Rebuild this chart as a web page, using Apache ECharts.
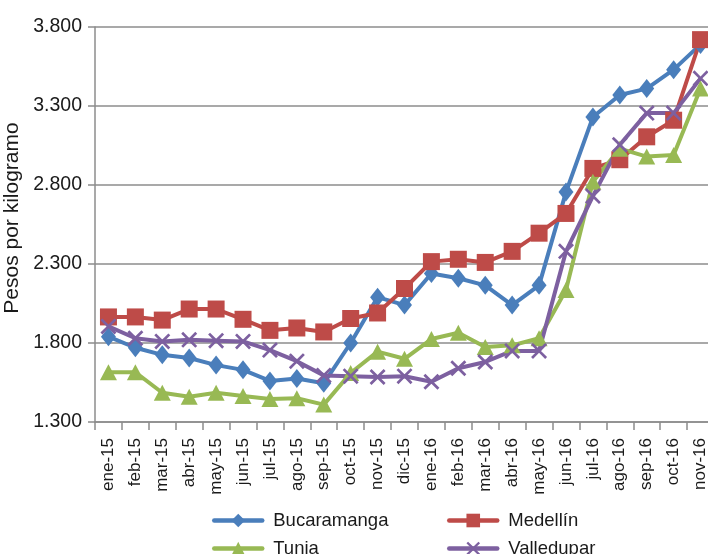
<!DOCTYPE html>
<html>
<head>
<meta charset="utf-8">
<script src="https://cdn.jsdelivr.net/npm/echarts@6/dist/echarts.min.js"></script>
<style>
html,body{margin:0;padding:0;background:#fff;}
#chart{width:708px;height:554px;}
</style>
</head>
<body>
<div id="chart"></div>
<script>
var categories = ['ene-15','feb-15','mar-15','abr-15','may-15','jun-15','jul-15','ago-15','sep-15','oct-15','nov-15','dic-15',
  'ene-16','feb-16','mar-16','abr-16','may-16','jun-16','jul-16','ago-16','sep-16','oct-16','nov-16'];
var bucaramanga = [1840,1770,1725,1705,1660,1630,1560,1575,1545,1800,2090,2040,2240,2210,2165,2040,2165,2755,3230,3370,3410,3530,3690];
var medellin    = [1965,1965,1945,2015,2015,1950,1880,1895,1870,1955,1990,2145,2315,2330,2310,2380,2495,2620,2905,2960,3105,3210,3720];
var tunja       = [1615,1615,1485,1460,1485,1465,1445,1450,1410,1610,1745,1700,1825,1865,1775,1785,1830,2135,2820,3030,2980,2990,3410];
var valledupar  = [1905,1830,1810,1820,1815,1810,1755,1685,1595,1590,1585,1590,1555,1640,1680,1750,1750,2380,2730,3055,3255,3255,3475];
var yTicks = [1300,1800,2300,2800,3300,3800];

var FONT = 'Liberation Sans, Arial, sans-serif';
var TXT = '#1a1a1a';
var xShape = 'path://M0,1.2 L1.2,0 L5,3.8 L8.8,0 L10,1.2 L6.2,5 L10,8.8 L8.8,10 L5,6.2 L1.2,10 L0,8.8 L3.8,5 Z';

function mkSeries(name, data, color, symbol, size) {
  return {
    name: name, type: 'line', data: data,
    symbol: symbol, symbolSize: size,
    lineStyle: {color: color, width: 4},
    itemStyle: {color: color},
    emphasis: {disabled: true},
    animation: false
  };
}

var chart = echarts.init(document.getElementById('chart'), null, {renderer: 'canvas'});
function legendAt(name, left, top) {
  return {
    data: [name], left: left, top: top, orient: 'horizontal',
    itemWidth: 48, itemHeight: 17, padding: 0,
    lineStyle: {width: 4.5, cap: 'round'},
    textStyle: {fontFamily: FONT, fontSize: 18.5, color: TXT, padding: [0, 0, 0, 6]},
    selectedMode: false
  };
}
chart.setOption({
  backgroundColor: '#fff',
  animation: false,
  textStyle: {fontFamily: FONT},
  grid: {left: 95, top: 27, bottom: 132, width: 619, containLabel: false, outerBoundsMode: 'none'},
  legend: [
    legendAt('Bucaramanga', 212, 511),
    legendAt('Medellín', 447, 511),
    legendAt('Tunja', 212, 539),
    legendAt('Valledupar', 447, 539)
  ],
  xAxis: {
    type: 'category', data: categories, boundaryGap: true,
    axisLine: {lineStyle: {color: '#8c8c8c', width: 1.5}},
    axisTick: {show: true, length: 8, inside: false, lineStyle: {color: '#8c8c8c', width: 1.5}},
    axisLabel: {rotate: 90, interval: 0, margin: 16, fontSize: 17, color: TXT, fontFamily: FONT},
    splitLine: {show: false}
  },
  yAxis: {
    type: 'value', min: 1300, max: 3800, interval: 500,
    name: 'Pesos por kilogramo', nameLocation: 'middle', nameGap: 70,
    nameTextStyle: {fontSize: 21, color: TXT, fontFamily: FONT, padding: [0,0,0,13]},
    axisLine: {show: true, lineStyle: {color: '#8c8c8c', width: 1.5}},
    axisTick: {show: true, length: 7, lineStyle: {color: '#8c8c8c', width: 1.5}},
    axisLabel: {
      margin: 13, fontSize: 19.5, color: TXT, fontFamily: FONT,
      formatter: function (v) {
        return yTicks.indexOf(v) >= 0 ? String(v).replace(/\B(?=(\d{3})+(?!\d))/g, '.') : '';
      }
    },
    splitLine: {show: true, lineStyle: {color: '#8c8c8c', width: 1.5}}
  },
  series: [
    mkSeries('Bucaramanga', bucaramanga, '#4A7EBB', 'diamond', [15, 19]),
    mkSeries('Medellín', medellin, '#BE4B48', 'rect', [17, 17]),
    mkSeries('Tunja', tunja, '#98B954', 'triangle', [17, 16]),
    mkSeries('Valledupar', valledupar, '#7D60A0', xShape, [16, 16])
  ]
});
</script>
</body>
</html>
